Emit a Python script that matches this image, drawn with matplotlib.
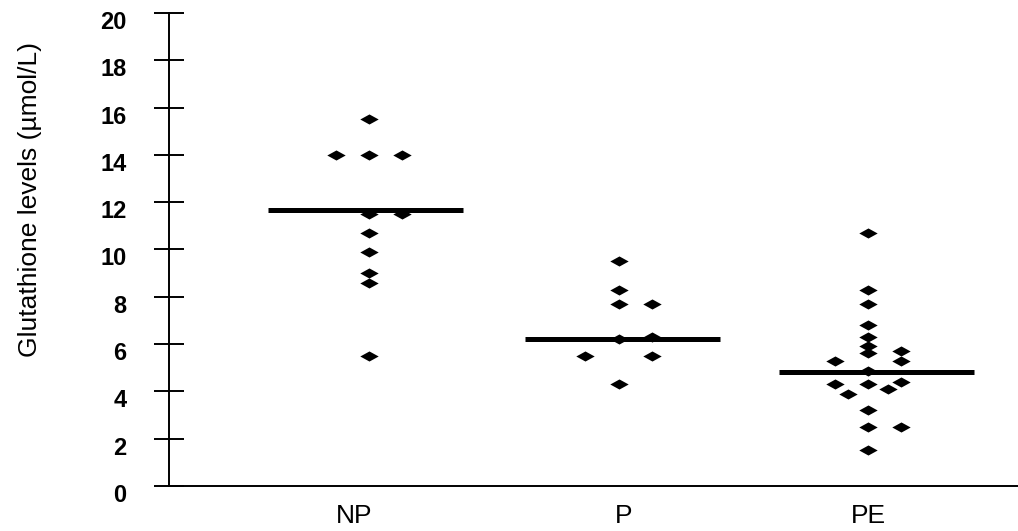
import matplotlib
matplotlib.use("Agg")
import matplotlib.pyplot as plt
import matplotlib.transforms as mtransforms
from matplotlib.path import Path
import numpy as np

plt.rcParams['font.family'] = ['Liberation Sans', 'DejaVu Sans']

# ---- data ----
groups = ["NP", "P", "PE"]
np_values = [15.5, 14.0, 14.0, 14.0, 11.5, 11.5, 10.7, 9.9, 9.0, 8.6, 5.5]
np_slots  = [0, -1, 0, 1, 0, 1, 0, 0, 0, 0, 0]
p_values  = [9.5, 8.3, 7.7, 7.7, 6.2, 6.3, 5.5, 5.5, 4.3]
p_slots   = [0, 0, 0, 1, 0, 1, -1, 1, 0]
pe_values = [10.7, 8.3, 7.7, 6.8, 6.3, 5.9, 5.6, 5.3, 5.7, 5.3, 4.85,
             4.3, 4.3, 4.4, 3.9, 4.1, 3.2, 2.5, 2.5, 1.5]
pe_slots  = [0, 0, 0, 0, 0, 0, 0, -1, 1, 1, 0,
             -1, 0, 1, -0.6, 0.6, 0, 0, 1, 0]
group_means = [11.67, 6.23, 4.82]
y_ticks = list(range(0, 21, 2))
y_label = "Glutathione levels (\u00b5mol/L)"

values = [np_values, p_values, pe_values]
slots = [np_slots, p_slots, pe_slots]

# ---- style ----
slot_width = 0.133
mean_half = 0.39
mean_shift = [-0.015, 0.015, 0.035]
label_shift = [-0.06, 0.02, 0.0]

diamond = Path([(-1, 0), (0, 0.55), (1, 0), (0, -0.55), (-1, 0)],
               [Path.MOVETO, Path.LINETO, Path.LINETO, Path.LINETO, Path.CLOSEPOLY])

fig = plt.figure(figsize=(10.18, 5.31), dpi=100)
ax = fig.add_axes([0.166, 0.085, 0.834, 0.8905])

for i, (vals, sl) in enumerate(zip(values, slots)):
    cx = i + 1
    xs = cx + np.array(sl) * slot_width
    ax.scatter(xs, vals, marker=diamond, s=175, color='black', linewidths=0, zorder=2)
    c = cx + mean_shift[i]
    ax.hlines(group_means[i], c - mean_half, c + mean_half, color='black',
              linewidth=3.6, zorder=3)

ax.set_xlim(0.198, 3.601)
ax.set_ylim(0, 20)

for s in ['top', 'right']:
    ax.spines[s].set_visible(False)
ax.spines['left'].set_linewidth(1.4)
ax.spines['bottom'].set_linewidth(1.4)

ax.set_yticks(y_ticks)
ax.set_yticklabels([str(t) for t in y_ticks], fontweight='bold', fontsize=17)
ax.tick_params(axis='y', direction='inout', length=21, width=1.4, pad=20)
shift = mtransforms.ScaledTranslation(0, -7 / 100, fig.dpi_scale_trans)
for lbl in ax.get_yticklabels():
    lbl.set_transform(lbl.get_transform() + shift)

ax.set_xticks([i + 1 + label_shift[i] for i in range(3)])
ax.set_xticklabels(groups, fontsize=19)
ax.tick_params(axis='x', length=0, pad=13)

ax.set_ylabel(y_label, fontsize=19)
ax.yaxis.set_label_coords(-0.150, 0.605)

fig.savefig("out.png", dpi=100, facecolor='white')
